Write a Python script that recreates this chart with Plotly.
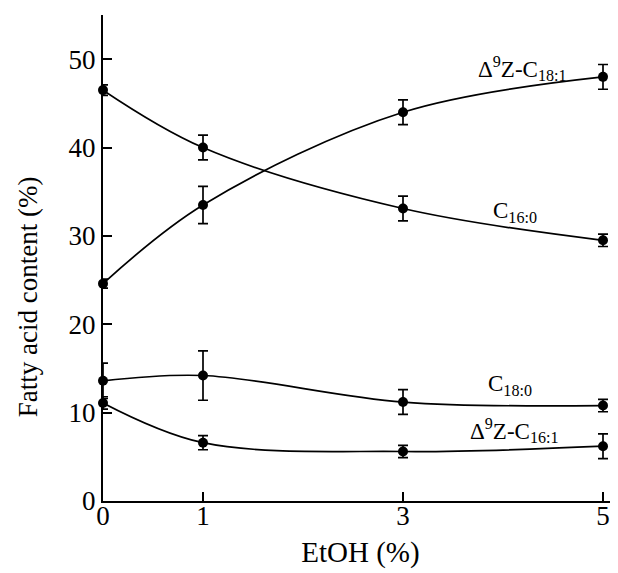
import plotly.graph_objects as go

etoh = [0, 1, 3, 5]
x_ticks = [0, 1, 3, 5]
y_ticks = [0, 10, 20, 30, 40, 50]

c16_0 = [46.5, 40.0, 33.1, 29.5]
c16_0_err = [0.6, 1.4, 1.4, 0.7]
c18_1 = [24.6, 33.5, 44.0, 48.0]
c18_1_err = [0.5, 2.1, 1.4, 1.4]
c18_0 = [13.6, 14.2, 11.2, 10.8]
c18_0_err = [2.0, 2.8, 1.4, 0.7]
c16_1 = [11.1, 6.6, 5.6, 6.2]
c16_1_err = [0.7, 0.8, 0.7, 1.4]

labels = ["Δ<sup>9</sup>Z-C<sub>18:1</sub>", "C<sub>16:0</sub>", "C<sub>18:0</sub>", "Δ<sup>9</sup>Z-C<sub>16:1</sub>"]
label_x = [4.19, 4.12, 4.07, 4.11]
label_y = [48.9, 32.7, 13.1, 8.0]

FONT = "Liberation Serif"
fig = go.Figure()
for ys, es in [(c16_0, c16_0_err), (c18_1, c18_1_err), (c18_0, c18_0_err), (c16_1, c16_1_err)]:
    fig.add_trace(go.Scatter(
        x=etoh, y=ys, mode="lines+markers",
        line=dict(color="black", width=1.7, shape="spline", smoothing=1.0),
        marker=dict(color="black", size=10),
        error_y=dict(type="data", array=es, visible=True, color="black", thickness=1.7, width=5),
        showlegend=False, cliponaxis=False,
    ))

for t, lx, ly in zip(labels, label_x, label_y):
    fig.add_annotation(x=lx, y=ly, text=t, showarrow=False, xanchor="center", yanchor="middle",
                       font=dict(family=FONT, size=23, color="black"))

fig.add_annotation(xref="paper", yref="paper", x=-0.145, y=0.42, text="Fatty acid content (%)",
                   textangle=-90, showarrow=False, xanchor="center", yanchor="middle",
                   font=dict(family=FONT, size=27, color="black"))

fig.update_layout(
    width=610, height=565,
    margin=dict(l=95, r=0, t=7, b=72),
    paper_bgcolor="white", plot_bgcolor="white",
    font=dict(family=FONT, color="black"),
    xaxis=dict(range=[0, 5.15], tickvals=x_ticks, ticktext=[str(v) for v in x_ticks],
               showgrid=False, zeroline=False, showline=True, linecolor="black", linewidth=2,
               ticks="inside", ticklen=9, tickwidth=1.5, tickcolor="black", ticklabelstandoff=-10,
               tickfont=dict(family=FONT, size=27, color="black"),
               title=dict(text="EtOH (%)", font=dict(family=FONT, size=29, color="black"), standoff=11)),
    yaxis=dict(range=[0, 55], tickvals=y_ticks, showgrid=False, zeroline=False,
               showline=True, linecolor="black", linewidth=2,
               ticks="inside", ticklen=9, tickwidth=1.5, tickcolor="black",
               tickfont=dict(family=FONT, size=27, color="black")),
)
fig.write_html("out.html")
